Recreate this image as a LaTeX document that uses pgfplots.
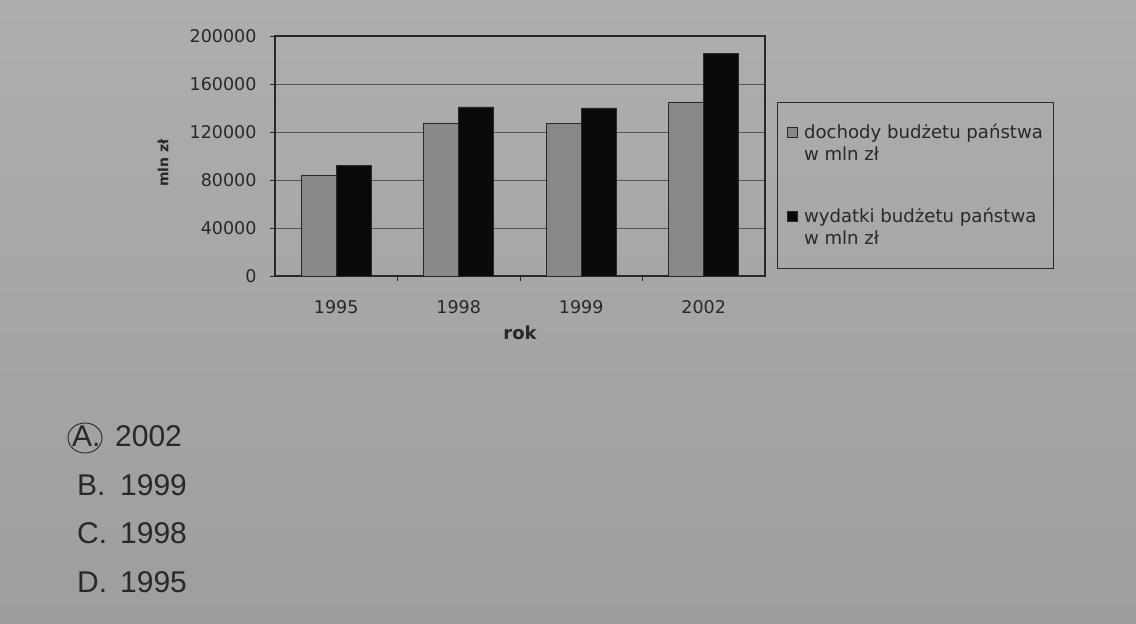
\documentclass[border=0pt]{standalone}
\usepackage{pgfplots}
\pgfplotsset{compat=1.18}
\usepackage{fontspec}
\setmainfont{Liberation Sans}
\newfontfamily\chartfont{DejaVu Sans}
\definecolor{bgtop}{RGB}{174,174,174}
\definecolor{bgbot}{RGB}{158,158,158}
\definecolor{ink}{RGB}{40,40,40}
\definecolor{barg}{RGB}{136,136,136}
\definecolor{bark}{RGB}{10,10,10}
\definecolor{gridc}{RGB}{85,85,85}
\begin{document}
\begin{tikzpicture}[x=1pt,y=1pt]
\shade[top color=bgtop,bottom color=bgbot] (0,0) rectangle (1136,624);
\begin{axis}[
  at={(275pt,348pt)}, anchor=south west,
  scale only axis, width=490pt, height=240pt,
  ybar=0pt, bar width=35pt,
  xmin=-0.5, xmax=3.5, ymin=0, ymax=200000,
  xtick={0,1,2,3}, xticklabels={1995,1998,1999,2002},
  ytick={0,40000,80000,120000,160000,200000},
  scaled y ticks=false,
  /pgf/number format/assume math mode=true,
  yticklabel style={/pgf/number format/fixed,/pgf/number format/1000 sep={}},
  tick label style={font=\chartfont\fontsize{17.5}{20}\selectfont, text=ink},
  xticklabel style={yshift=-16pt},
  yticklabel style={xshift=-10pt},
  xtick style={draw=none},
  extra x ticks={0.5,1.5,2.5},
  extra x tick labels={},
  extra x tick style={xtick style={draw=ink}, major tick length=5pt, tick align=outside},
  ytick style={draw=ink}, major tick length=5pt, tick align=outside,
  tick pos=left,
  ymajorgrids, grid style={gridc, line width=0.9pt},
  axis line style={ink, line width=1.2pt},
  xlabel={rok}, ylabel={mln zł},
  xlabel style={font=\chartfont\bfseries\fontsize{18}{20}\selectfont, text=ink, at={(axis description cs:0.5,-0.237)}, anchor=center},
  ylabel style={font=\chartfont\bfseries\fontsize{14}{16}\selectfont, text=ink, at={(axis description cs:-0.2286,0.471)}, anchor=center},
  legend style={at={(rel axis cs:1.041,0.643)}, anchor=north west, draw=none, fill=none,
    font=\chartfont\fontsize{18.1}{22}\selectfont, text=ink, inner xsep=2pt, inner ysep=0pt, row sep=42pt, column sep=4pt,
    cells={align=left, anchor=west}},
  legend image code/.code={\draw[#1, draw=ink, line width=0.7pt] (0pt,6pt) rectangle (10pt,16pt); \path (0pt,-14pt);},
]
\addplot[fill=barg, draw=ink, line width=0.8pt] coordinates {(0,83500) (1,127500) (2,127000) (3,145000)};
\addplot[fill=bark, draw=ink, line width=0.8pt] coordinates {(0,91800) (1,140900) (2,140000) (3,185300)};
\legend{{dochody budżetu państwa\\w mln zł},{wydatki budżetu państwa\\w mln zł}}
\end{axis}
\draw[ink, line width=0.8pt] (777pt,356pt) rectangle (1053pt,522pt);
\begin{scope}[font=\fontsize{30}{36}\selectfont, text=ink]
\node[anchor=base west, inner sep=0pt] at (72pt,177pt) {A.};
\draw[ink, line width=0.9pt] (85pt,186pt) ellipse (17pt and 15pt);
\node[anchor=base west, inner sep=0pt] at (115pt,177pt) {2002};
\node[anchor=base west, inner sep=0pt] at (77pt,128pt) {B.};
\node[anchor=base west, inner sep=0pt] at (120pt,128pt) {1999};
\node[anchor=base west, inner sep=0pt] at (77pt,80pt) {C.};
\node[anchor=base west, inner sep=0pt] at (120pt,80pt) {1998};
\node[anchor=base west, inner sep=0pt] at (77pt,31pt) {D.};
\node[anchor=base west, inner sep=0pt] at (120pt,31pt) {1995};
\end{scope}
\end{tikzpicture}
\end{document}
